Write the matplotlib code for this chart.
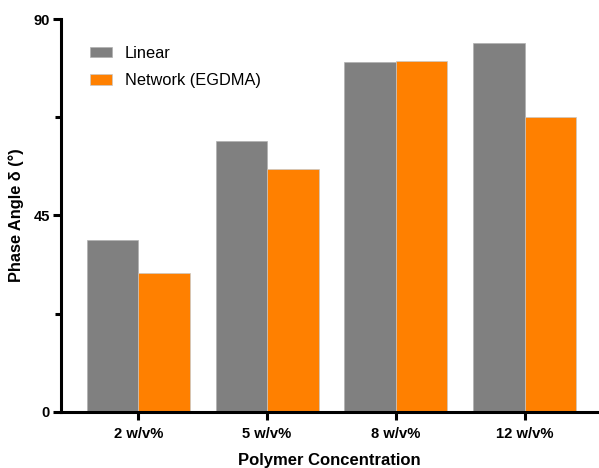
import numpy as np
import matplotlib.pyplot as plt

plt.rcParams['font.family'] = ['Liberation Sans', 'DejaVu Sans']

concentrations = ['2 w/v%', '5 w/v%', '8 w/v%', '12 w/v%']
linear = [39.4, 62.1, 80.2, 84.6]
network = [31.8, 55.7, 80.4, 67.6]

x = np.arange(len(concentrations))
width = 0.4

fig = plt.figure(figsize=(5.99, 4.68), dpi=100)
ax = fig.add_axes([61 / 599, 56.5 / 468, 537 / 599, 392 / 468])

ax.bar(x - width / 2, linear, width, color='#808080', edgecolor='#b0b0b0',
       linewidth=0.5, label='Linear')
ax.bar(x + width / 2, network, width, color='#ff8000', edgecolor='#c8c8c8',
       linewidth=0.5, label='Network (EGDMA)')

ax.set_xlim(-0.6, 3.57)
ax.set_ylim(0, 90)
ax.set_yticks([0, 45, 90])
ax.set_yticks([22.5, 67.5], minor=True)
ax.set_xticks(x)
ax.set_xticklabels(concentrations, fontweight='bold', fontsize=10.6)
for lab in ax.get_yticklabels():
    lab.set_fontweight('bold')
    lab.set_fontsize(10.6)

for side in ['top', 'right']:
    ax.spines[side].set_visible(False)
for side in ['left', 'bottom']:
    ax.spines[side].set_linewidth(2.2)
ax.spines['left'].set_bounds(0, 90)

ax.tick_params(axis='both', which='major', length=6, width=2.2, pad=2)
ax.tick_params(axis='x', which='major', pad=5)
ax.tick_params(axis='y', which='minor', length=4, width=2.2)

ax.set_ylabel('Phase Angle δ (°)', fontweight='bold', fontsize=11.8, labelpad=7)
ax.set_xlabel('Polymer Concentration', fontweight='bold', fontsize=12, labelpad=9)

ax.legend(loc='upper left', bbox_to_anchor=(0.027, 0.97), frameon=False,
          fontsize=11.8, handlelength=1.35, handleheight=0.6, handletextpad=0.75,
          labelspacing=0.75)

fig.savefig('out.png', dpi=100)
